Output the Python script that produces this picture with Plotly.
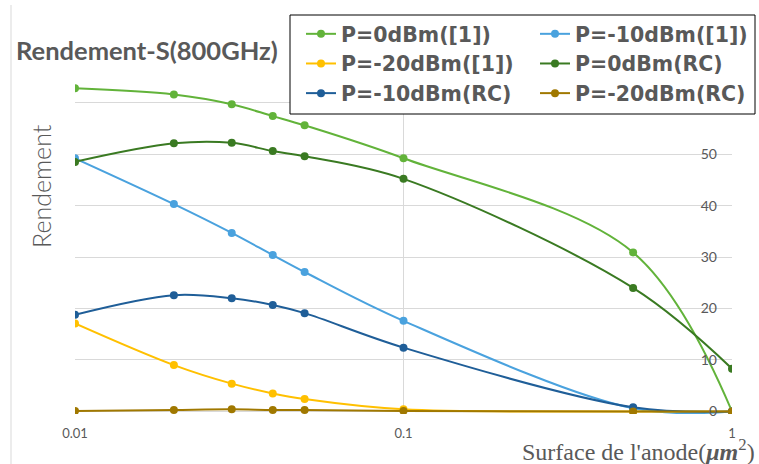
import plotly.graph_objects as go

surface = [0.01, 0.02, 0.03, 0.04, 0.05, 0.1, 0.5, 1]
p0_ref = [62.8, 61.6, 59.7, 57.4, 55.6, 49.2, 30.9, 0]
p10_ref = [49.2, 40.3, 34.7, 30.4, 27.1, 17.6, 0.6, 0]
p20_ref = [17.1, 9.0, 5.4, 3.5, 2.4, 0.4, 0, 0]
p0_rc = [48.5, 52.1, 52.2, 50.6, 49.6, 45.2, 24.0, 8.3]
p10_rc = [18.8, 22.6, 22.0, 20.7, 19.1, 12.4, 0.8, 0]
p20_rc = [0.1, 0.3, 0.4, 0.3, 0.3, 0.1, 0, 0]

names = ["P=0dBm([1])", "P=-10dBm([1])", "P=-20dBm([1])",
         "P=0dBm(RC)", "P=-10dBm(RC)", "P=-20dBm(RC)"]
series = [p0_ref, p10_ref, p20_ref, p0_rc, p10_rc, p20_rc]
colors = ["#62B33A", "#4AA2DE", "#FFC000", "#3A7A22", "#1F5E98", "#A07800"]

x_ticks = [0.01, 0.1, 1]
x_tick_text = ["0.01", "0.1", "1"]
y_ticks = [0, 10, 20, 30, 40, 50, 60]

W, H = 759, 464
L, R, T, B = 75, 27, 77, 50
PW, PH = W - L - R, H - T - B

def px(x):
    return (x - L) / PW

def py(y):
    return (H - B - y) / PH

fig = go.Figure()
for n, s, c in zip(names, series, colors):
    fig.add_trace(go.Scatter(
        x=surface, y=s, name=n, mode="lines+markers",
        line=dict(color=c, width=2, shape="spline", smoothing=1.0),
        marker=dict(color=c, size=8),
    ))

gray = "#595959"
fig.update_layout(
    width=W, height=H,
    margin=dict(l=L, r=R, t=T, b=B, autoexpand=False),
    paper_bgcolor="white", plot_bgcolor="white",
    showlegend=True,
    legend=dict(
        orientation="h", xref="container", yref="container",
        x=301 / W, y=1 - 14 / H, xanchor="left", yanchor="top",
        bgcolor="rgba(0,0,0,0)", borderwidth=0,
        font=dict(family="DejaVu Sans", size=20.5, color=gray, weight="bold"),
        entrywidth=189, itemwidth=30, tracegroupgap=0,
    ),
    xaxis=dict(
        type="log", range=[-2, 0], tickvals=x_ticks, ticktext=x_tick_text,
        showgrid=True, gridcolor="#d9d9d9", gridwidth=1,
        showline=False, zeroline=False, ticks="",
        tickfont=dict(family="Lato", size=13, color=gray),
        ticklabelstandoff=10,
    ),
    yaxis=dict(
        range=[-0.5, 65], tickvals=y_ticks, side="left",
        anchor="free", position=1,
        showgrid=True, gridcolor="#d9d9d9", gridwidth=1,
        showline=False, zeroline=False, ticks="",
        tickfont=dict(family="Lato", size=14, color=gray),
        ticklabelstandoff=15,
    ),
    annotations=[
        dict(text="<b>Rendement-S(800GHz)</b>", xref="paper", yref="paper",
             x=px(14), y=py(50), xanchor="left", yanchor="middle",
             showarrow=False, font=dict(family="Lato", size=25.5, color=gray)),
        dict(text="Rendement", xref="paper", yref="paper",
             x=px(41), y=py(186), xanchor="center", yanchor="middle",
             textangle=-90, showarrow=False,
             font=dict(family="Lato", size=25, color=gray, weight=300)),
        dict(text="Surface de l'anode(<i><b>μm</b></i><sup>2</sup>)", xref="paper", yref="paper",
             x=px(757), y=py(450), xanchor="right", yanchor="middle",
             showarrow=False, font=dict(family="Liberation Serif", size=24, color=gray)),
    ],
    shapes=[
        dict(type="line", xref="paper", yref="paper",
             x0=px(11), x1=px(11), y0=py(464), y1=py(5),
             line=dict(color="#d9d9d9", width=1)),
        dict(type="rect", xref="paper", yref="paper", layer="above",
             x0=px(290), x1=px(755), y0=py(114), y1=py(15),
             fillcolor="white", line=dict(color="#000000", width=1)),
    ],
)

fig.write_html("out.html", config={"displayModeBar": False},
               post_script="document.body.style.margin='0';")
